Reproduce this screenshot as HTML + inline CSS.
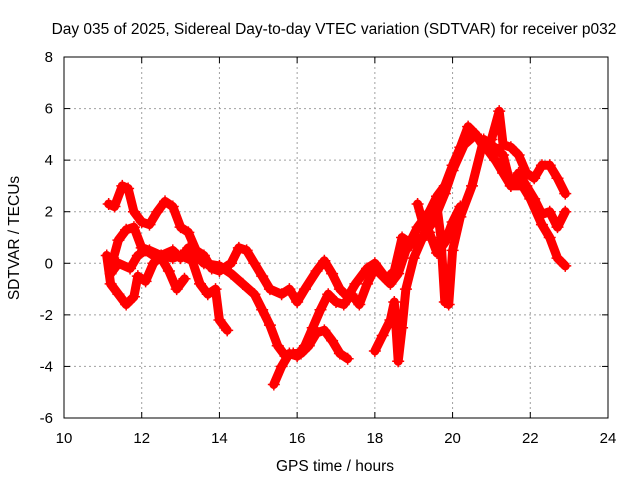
<!DOCTYPE html>
<html><head><meta charset="utf-8"><style>
body{margin:0;background:#fff}
svg{display:block;font-family:"Liberation Sans",sans-serif}
</style></head><body>
<svg id="chart" width="640" height="480" viewBox="0 0 640 480" xmlns="http://www.w3.org/2000/svg">
<rect width="640" height="480" fill="#fff"/>
<text x="334" y="34" font-size="15.5" text-anchor="middle">Day 035 of 2025, Sidereal Day-to-day VTEC variation (SDTVAR) for receiver p032</text>
<text x="335" y="471" font-size="15.5" text-anchor="middle">GPS time / hours</text>
<text x="19" y="238" font-size="15.5" text-anchor="middle" transform="rotate(-90 19 238)">SDTVAR / TECUs</text>
<g id="grid"></g>
<g id="series"></g>
<rect x="64" y="57" width="544" height="361" fill="none" stroke="#000" stroke-width="1"/>
</svg>
<script>
const xTicks=[10,12,14,16,18,20,22,24];
const yTicks=[-6,-4,-2,0,2,4,6,8];
const s1=[[11.15,2.3],[11.3,2.2],[11.5,3.0],[11.65,2.9],[11.8,2.0],[12.0,1.6],[12.2,1.5],[12.4,2.0],[12.6,2.4],[12.8,2.2],[13.0,1.4],[13.2,1.2],[13.4,0.5],[13.6,0.3],[13.8,-0.2],[14.0,-0.3],[14.3,0.0],[14.5,0.6],[14.7,0.5],[14.9,0.0],[15.1,-0.5],[15.3,-1.0],[15.6,-1.2],[15.8,-1.0],[16.0,-1.5],[16.2,-1.0],[16.5,-0.3],[16.7,0.1],[16.9,-0.4],[17.1,-1.0],[17.3,-1.3],[17.5,-0.8],[17.8,-0.2],[18.0,0.0],[18.3,-0.6],[18.5,-0.3],[18.7,1.0],[18.9,0.8],[19.1,1.4],[19.4,2.0],[19.6,2.6],[19.8,3.0],[20.0,3.8],[20.2,4.5],[20.4,5.3],[20.6,5.0],[20.8,4.5],[21.0,4.8],[21.2,5.9],[21.3,4.6],[21.5,4.5],[21.7,4.2],[21.9,3.5],[22.1,3.3],[22.3,3.8],[22.5,3.8],[22.7,3.3],[22.9,2.7]];
const s2=[[11.1,0.3],[11.2,-0.8],[11.4,-1.2],[11.6,-1.6],[11.8,-1.3],[11.9,-0.5],[12.1,-0.7],[12.3,0.0],[12.5,0.3],[12.8,0.5],[13.0,0.2],[13.2,0.6],[13.4,0.3],[13.6,0.0],[14.0,-0.1],[14.3,-0.4],[14.6,-0.8],[14.9,-1.2],[15.1,-1.8],[15.3,-2.4],[15.5,-3.2],[15.7,-3.6],[15.9,-3.5],[16.1,-3.5],[16.3,-3.2],[16.5,-2.7],[16.7,-2.6],[16.9,-3.0],[17.1,-3.5],[17.3,-3.7]];
const s3=[[11.2,-0.2],[11.4,0.9],[11.6,1.3],[11.8,1.4],[12.0,0.6],[12.2,0.5],[12.5,0.3],[12.8,0.2],[13.0,0.3],[13.3,0.1],[13.5,-0.8],[13.7,-1.2],[13.9,-1.0],[14.0,-2.2],[14.2,-2.6]];
const s4=[[11.2,-0.4],[11.4,0.0],[11.7,-0.2],[11.9,0.3],[12.1,0.5],[12.3,0.3],[12.5,0.2],[12.7,-0.3],[12.9,-1.0],[13.1,-0.6]];
const s5=[[15.4,-4.7],[15.6,-4.0],[15.8,-3.5],[16.0,-3.6],[16.2,-3.2],[16.4,-2.5],[16.6,-1.8],[16.8,-1.2],[17.0,-1.5],[17.2,-1.6],[17.4,-1.2],[17.6,-1.6],[17.8,-0.8],[18.0,-0.2],[18.2,-0.5],[18.4,-0.8],[18.6,-0.4],[18.8,0.5],[19.0,0.9],[19.2,1.0],[19.4,1.2],[19.6,0.4],[19.8,0.8],[20.0,1.6],[20.2,2.2]];
const s6=[[18.0,-3.4],[18.2,-2.8],[18.4,-2.2],[18.5,-1.5],[18.6,-3.8],[18.7,-2.5],[18.8,-1.0],[19.0,0.2],[19.2,0.9],[19.4,1.5],[19.6,2.2],[19.7,1.0],[19.8,-1.5],[19.9,-1.6],[20.0,0.5],[20.2,1.8],[20.5,3.0],[20.8,4.8],[21.0,4.6],[21.3,4.2],[21.5,3.0],[21.7,3.5],[21.9,3.0],[22.1,2.5],[22.3,1.9],[22.5,2.0],[22.7,1.4],[22.9,2.0]];
const s7=[[19.1,2.3],[19.3,1.2],[19.5,1.6],[19.8,2.7],[20.0,3.6],[20.3,4.6],[20.6,5.0],[20.9,4.4],[21.1,4.0],[21.3,3.5],[21.5,3.0],[21.8,3.0],[22.0,2.5],[22.3,1.5],[22.5,1.0],[22.7,0.2],[22.9,-0.1]];
const allSeries=[s1,s2,s3,s4,s5,s6,s7];
const NS='http://www.w3.org/2000/svg';
const X0=64,X1=608,Y0=418,Y1=57;
function xs(v){return X0+(v-10)/(24-10)*(X1-X0);}
function ys(v){return Y0-(v+6)/(8+6)*(Y0-Y1);}
const grid=document.getElementById('grid');
function mk(tag,attrs,parent){const e=document.createElementNS(NS,tag);for(const k in attrs)e.setAttribute(k,attrs[k]);parent.appendChild(e);return e;}
xTicks.forEach(t=>{
  const x=xs(t);
  if(t>10&&t<24){const l=mk('line',{x1:x,x2:x,y1:Y1,y2:Y0,stroke:'#a0a0a0','stroke-dasharray':'2,3'},grid);
  
  }
  mk('line',{x1:x,x2:x,y1:Y0,y2:Y0-6,stroke:'#000'},grid);
  mk('line',{x1:x,x2:x,y1:Y1,y2:Y1+6,stroke:'#000'},grid);
  const tx=mk('text',{x:x,y:443,'font-size':15,'text-anchor':'middle'},grid);tx.textContent=t;
  
  
});
yTicks.forEach(t=>{
  const y=ys(t);
  if(t>-6&&t<8){const l=mk('line',{x1:X0,x2:X1,y1:y,y2:y,stroke:'#a0a0a0','stroke-dasharray':'2,3'},grid);
  
  }
  mk('line',{x1:X0,x2:X0+6,y1:y,y2:y,stroke:'#000'},grid);
  mk('line',{x1:X1,x2:X1-6,y1:y,y2:y,stroke:'#000'},grid);
  const tx=mk('text',{x:53,y:y+5,'font-size':15,'text-anchor':'end'},grid);tx.textContent=t;
  
  
});
const sg=document.getElementById('series');
allSeries.forEach((s,i)=>{
  const pts=s.map(p=>xs(p[0]).toFixed(1)+','+ys(p[1]).toFixed(1)).join(' ');
  const pl=mk('polyline',{points:pts,fill:'none',stroke:'#f00','stroke-width':9,'stroke-linejoin':'round','stroke-linecap':'round'},sg);
  
  
  s.forEach(p=>{
    const x=xs(p[0]),y=ys(p[1]);
    const m=mk('path',{d:`M${x-6},${y}H${x+6}M${x},${y-6}V${y+6}`,stroke:'#f00','stroke-width':1.5},sg);
    
    
  });
});
</script>
</body></html>
